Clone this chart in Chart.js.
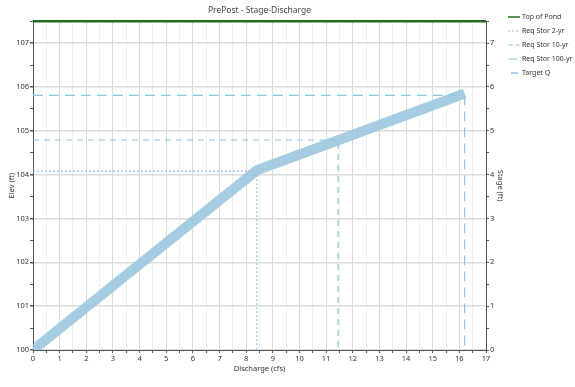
<!DOCTYPE html>
<html lang="en">
<head>
    <meta charset="UTF-8">
    <title>PrePost - Stage-Discharge</title>
    <script src="https://cdn.jsdelivr.net/npm/chart.js@4/dist/chart.umd.min.js"></script>
    <style>
        body { margin: 0; background: #fff; }
    </style>
</head>
<body>
    <canvas id="graph" width="575" height="387"></canvas>
    <script>
        // stage-discharge curve
        const curveQ = [0, 8.4, 16.2];
        const curveElev = [100, 104.1, 105.85];

        // required storage lines (elevation, discharge)
        const stor2Elev = 104.08, stor2Q = 8.4;
        const stor10Elev = 104.79, stor10Q = 11.45;
        const stor100Elev = 105.81, stor100Q = 16.2;

        const topOfPond = 107.5;
        const xMin = 0, xMax = 17;
        const baseElev = 100;

        const lineBlue = '#93c4e0';

        function corner(elev, q) {
            return [{x: xMin, y: elev}, {x: q, y: elev}, {x: q, y: baseElev}];
        }

        const legendItems = [
            {text: 'Top of Pond', color: '#1e6e1e', dash: [], width: 1.5},
            {text: 'Req Stor 2-yr', color: lineBlue, dash: [2, 2], width: 1},
            {text: 'Req Stor 10-yr', color: lineBlue, dash: [5, 2], width: 1},
            {text: 'Req Stor 100-yr', color: lineBlue, dash: [9, 4], width: 1},
            {text: 'Target Q', color: lineBlue, dash: [0, 3, 7, 20], width: 1.5}
        ];

        const legendPlugin = {
            id: 'sideLegend',
            afterDraw(chart) {
                const ctx = chart.ctx;
                ctx.save();
                ctx.font = '7px "Noto Sans"';
                ctx.textBaseline = 'middle';
                ctx.fillStyle = '#333';
                legendItems.forEach((it, i) => {
                    const y = 17 + i * 14;
                    ctx.strokeStyle = it.color;
                    ctx.lineWidth = it.width;
                    ctx.setLineDash(it.dash);
                    ctx.beginPath();
                    ctx.moveTo(508, y);
                    ctx.lineTo(520, y);
                    ctx.stroke();
                    ctx.setLineDash([]);
                    ctx.fillText(it.text, 522, y);
                });
                ctx.restore();
            }
        };

        const isInt = v => Math.abs(v - Math.round(v)) < 1e-6;

        const ctx = document.getElementById('graph').getContext('2d');
        new Chart(ctx, {
            type: 'line',
            data: {
                datasets: [
                    {
                        label: 'Stage-Discharge',
                        data: curveQ.map((q, i) => ({x: q, y: curveElev[i]})),
                        borderColor: 'rgba(155,198,222,0.9)',
                        borderWidth: 10,
                        borderCapStyle: 'butt',
                        borderJoinStyle: 'miter',
                        pointRadius: 0,
                        tension: 0
                    },
                    {
                        label: 'Top of Pond',
                        data: [{x: xMin, y: topOfPond}, {x: xMax, y: topOfPond}],
                        borderColor: '#1e6e1e',
                        borderWidth: 2.5,
                        pointRadius: 0,
                        clip: false
                    },
                    {
                        label: 'Req Stor 2-yr',
                        data: corner(stor2Elev, stor2Q),
                        borderColor: lineBlue,
                        borderWidth: 1.2,
                        borderDash: [2, 2],
                        pointRadius: 0
                    },
                    {
                        label: 'Req Stor 10-yr',
                        data: corner(stor10Elev, stor10Q),
                        borderColor: lineBlue,
                        borderWidth: 1.2,
                        borderDash: [6, 5],
                        pointRadius: 0
                    },
                    {
                        label: 'Req Stor 100-yr',
                        data: corner(stor100Elev, stor100Q),
                        borderColor: lineBlue,
                        borderWidth: 1.2,
                        borderDash: [10, 6],
                        pointRadius: 0
                    }
                ]
            },
            options: {
                responsive: false,
                animation: false,
                layout: {padding: {top: 0, right: 67, bottom: 14, left: 0}},
                plugins: {
                    legend: {display: false},
                    tooltip: {enabled: false},
                    title: {
                        display: true,
                        text: 'PrePost - Stage-Discharge',
                        fullSize: false,
                        color: '#444',
                        font: {family: 'Noto Sans', size: 8.5, weight: 'normal'},
                        padding: {top: 5, bottom: 6}
                    }
                },
                scales: {
                    x: {
                        type: 'linear',
                        min: xMin,
                        max: xMax,
                        afterFit: s => { s.height = 23; },
                        border: {color: '#555', width: 1},
                        grid: {
                            color: c => isInt(c.tick.value) ? '#dadada' : '#efefef',
                            tickColor: '#555',
                            tickLength: 3
                        },
                        ticks: {
                            stepSize: 0.5,
                            autoSkip: false,
                            maxRotation: 0,
                            padding: 1,
                            color: '#333',
                            font: {family: 'Noto Sans', size: 7.5},
                            callback: v => isInt(v) ? String(v) : ''
                        },
                        title: {
                            display: true,
                            text: 'Discharge (cfs)',
                            color: '#333',
                            font: {family: 'Noto Sans', size: 7.5},
                            padding: {top: 0, bottom: 0}
                        }
                    },
                    y: {
                        type: 'linear',
                        position: 'left',
                        min: baseElev,
                        max: topOfPond,
                        afterFit: s => { s.width = 33; },
                        border: {color: '#555', width: 1},
                        grid: {
                            color: c => isInt(c.tick.value) ? '#dcdcdc' : 'rgba(0,0,0,0)',
                            lineWidth: c => isInt(c.tick.value) ? 1.5 : 1,
                            tickColor: '#555',
                            tickLength: 3
                        },
                        ticks: {
                            stepSize: 0.5,
                            autoSkip: false,
                            padding: 1,
                            color: '#333',
                            font: {family: 'Noto Sans', size: 7.5},
                            callback: v => isInt(v) && v < topOfPond ? String(v) : ''
                        },
                        title: {
                            display: true,
                            text: 'Elev (ft)',
                            color: '#333',
                            font: {family: 'Noto Sans', size: 7.5},
                            padding: {top: 7, bottom: 0}
                        }
                    },
                    y2: {
                        type: 'linear',
                        position: 'right',
                        min: 0,
                        max: topOfPond - baseElev,
                        afterFit: s => { s.width = 22; },
                        border: {color: '#555', width: 1},
                        grid: {
                            drawOnChartArea: false,
                            tickColor: '#555',
                            tickLength: 3
                        },
                        ticks: {
                            stepSize: 0.5,
                            autoSkip: false,
                            padding: 1,
                            color: '#333',
                            font: {family: 'Noto Sans', size: 7.5},
                            callback: v => isInt(v) && v < 7.5 ? String(v) : ''
                        },
                        title: {
                            display: true,
                            text: 'Stage (ft)',
                            color: '#333',
                            font: {family: 'Noto Sans', size: 7.5},
                            padding: {top: 3, bottom: 0}
                        }
                    }
                }
            },
            plugins: [legendPlugin]
        });
    </script>
</body>
</html>
